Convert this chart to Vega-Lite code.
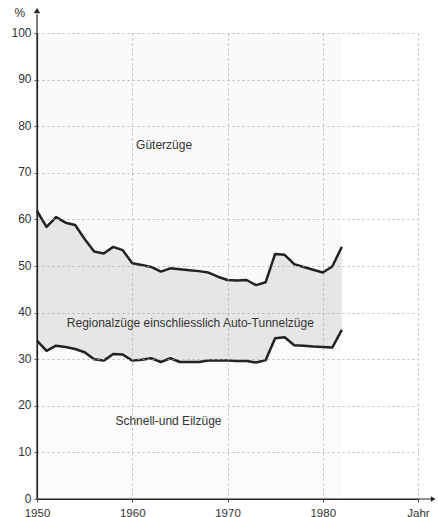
{
  "$schema": "https://vega.github.io/schema/vega-lite/v6.json",
  "width": 381,
  "height": 466,
  "autosize": {"type": "none"},
  "padding": {"left": 37, "top": 33, "right": 20, "bottom": 18},
  "background": "white",
  "config": {
    "view": {"stroke": null},
    "font": "Liberation Sans",
    "axis": {"labelFont": "Liberation Sans", "titleFont": "Liberation Sans", "labelColor": "#333", "titleColor": "#333"}
  },
  "data": {"values": [
    {"Jahr": 1950, "Untere": 34.0, "Obere": 61.8},
    {"Jahr": 1951, "Untere": 31.8, "Obere": 58.4},
    {"Jahr": 1952, "Untere": 32.9, "Obere": 60.5},
    {"Jahr": 1953, "Untere": 32.6, "Obere": 59.3},
    {"Jahr": 1954, "Untere": 32.2, "Obere": 58.8},
    {"Jahr": 1955, "Untere": 31.5, "Obere": 55.8},
    {"Jahr": 1956, "Untere": 30.0, "Obere": 53.1},
    {"Jahr": 1957, "Untere": 29.7, "Obere": 52.7},
    {"Jahr": 1958, "Untere": 31.1, "Obere": 54.1},
    {"Jahr": 1959, "Untere": 31.0, "Obere": 53.4},
    {"Jahr": 1960, "Untere": 29.7, "Obere": 50.6},
    {"Jahr": 1961, "Untere": 29.9, "Obere": 50.2},
    {"Jahr": 1962, "Untere": 30.2, "Obere": 49.8},
    {"Jahr": 1963, "Untere": 29.4, "Obere": 48.8},
    {"Jahr": 1964, "Untere": 30.2, "Obere": 49.5},
    {"Jahr": 1965, "Untere": 29.4, "Obere": 49.3},
    {"Jahr": 1966, "Untere": 29.4, "Obere": 49.1},
    {"Jahr": 1967, "Untere": 29.4, "Obere": 48.9},
    {"Jahr": 1968, "Untere": 29.7, "Obere": 48.6},
    {"Jahr": 1969, "Untere": 29.7, "Obere": 47.7},
    {"Jahr": 1970, "Untere": 29.7, "Obere": 47.0},
    {"Jahr": 1971, "Untere": 29.6, "Obere": 46.9},
    {"Jahr": 1972, "Untere": 29.6, "Obere": 47.0},
    {"Jahr": 1973, "Untere": 29.3, "Obere": 45.9},
    {"Jahr": 1974, "Untere": 29.8, "Obere": 46.5},
    {"Jahr": 1975, "Untere": 34.5, "Obere": 52.6},
    {"Jahr": 1976, "Untere": 34.7, "Obere": 52.4},
    {"Jahr": 1977, "Untere": 33.0, "Obere": 50.4},
    {"Jahr": 1978, "Untere": 32.9, "Obere": 49.8},
    {"Jahr": 1979, "Untere": 32.7, "Obere": 49.2},
    {"Jahr": 1980, "Untere": 32.6, "Obere": 48.6},
    {"Jahr": 1981, "Untere": 32.5, "Obere": 49.9},
    {"Jahr": 1982, "Untere": 36.3, "Obere": 54.1}
  ]},
  "layer": [
    {
      "mark": {"type": "area", "color": "#fafafa"},
      "encoding": {
        "x": {"field": "Jahr", "type": "quantitative", "scale": {"domain": [1950, 1990], "nice": false, "zero": false},
          "axis": {"zindex": 1, "values": [1950, 1960, 1970, 1980, 1990], "labelExpr": "datum.value == 1990 ? 'Jahr' : datum.value", "title": null, "grid": true, "gridColor": "#a8a8a8", "gridDash": [2, 3], "gridWidth": 0.8, "domainColor": "#222", "domainWidth": 1.2, "tickColor": "#555", "tickSize": 3, "labelFontSize": 11.5, "labelPadding": 5, "labelFlush": false}},
        "y": {"field": "Obere", "type": "quantitative", "scale": {"domain": [0, 100], "nice": false},
          "axis": {"zindex": 1, "values": [0, 10, 20, 30, 40, 50, 60, 70, 80, 90, 100], "title": "%", "titleAngle": 0, "titleX": -23, "titleY": -21, "titleAlign": "left", "titleBaseline": "middle", "titleFontSize": 12, "titleFontWeight": "normal", "grid": true, "gridColor": "#a8a8a8", "gridDash": [2, 3], "gridWidth": 0.8, "domainColor": "#222", "domainWidth": 1.2, "tickColor": "#555", "tickSize": 3, "labelFontSize": 12, "labelPadding": 3, "labelOffset": -1}},
        "y2": {"datum": 100}
      }
    },
    {
      "mark": {"type": "area", "color": "#e6e6e6"},
      "encoding": {
        "x": {"field": "Jahr", "type": "quantitative"},
        "y": {"field": "Obere", "type": "quantitative"},
        "y2": {"field": "Untere"}
      }
    },
    {
      "mark": {"type": "area", "color": "#fbfbfb"},
      "encoding": {
        "x": {"field": "Jahr", "type": "quantitative"},
        "y": {"field": "Untere", "type": "quantitative"},
        "y2": {"datum": 0}
      }
    },
    {
      "mark": {"type": "line", "color": "#222", "strokeWidth": 2.5, "strokeJoin": "round"},
      "encoding": {
        "x": {"field": "Jahr", "type": "quantitative"},
        "y": {"field": "Obere", "type": "quantitative"}
      }
    },
    {
      "mark": {"type": "line", "color": "#222", "strokeWidth": 2.5, "strokeJoin": "round"},
      "encoding": {
        "x": {"field": "Jahr", "type": "quantitative"},
        "y": {"field": "Untere", "type": "quantitative"}
      }
    },
    {
      "data": {"values": [{}]},
      "mark": {"type": "rule", "color": "#222", "strokeWidth": 1.2},
      "encoding": {"x": {"datum": 1950, "type": "quantitative"}, "y": {"datum": 0, "type": "quantitative"}, "y2": {"datum": 104}}
    },
    {
      "data": {"values": [{}]},
      "mark": {"type": "rule", "color": "#222", "strokeWidth": 1.2},
      "encoding": {"x": {"datum": 1950, "type": "quantitative"}, "x2": {"datum": 1991.5}, "y": {"datum": 0, "type": "quantitative"}}
    },
    {
      "data": {"values": [{}]},
      "mark": {"type": "point", "shape": "triangle-up", "filled": true, "color": "#222", "size": 40, "opacity": 1},
      "encoding": {"x": {"datum": 1950, "type": "quantitative"}, "y": {"datum": 104.8, "type": "quantitative"}}
    },
    {
      "data": {"values": [{}]},
      "mark": {"type": "point", "shape": "triangle-right", "filled": true, "color": "#222", "size": 30, "opacity": 1},
      "encoding": {"x": {"datum": 1991.6, "type": "quantitative"}, "y": {"datum": 0, "type": "quantitative"}}
    },
    {
      "data": {"values": [{}]},
      "mark": {"type": "text", "text": "Güterzüge", "fontSize": 12, "align": "left", "baseline": "middle", "color": "#333"},
      "encoding": {"x": {"datum": 1960.4, "type": "quantitative"}, "y": {"datum": 76, "type": "quantitative"}}
    },
    {
      "data": {"values": [{}]},
      "mark": {"type": "text", "text": "Regionalzüge einschliesslich Auto-Tunnelzüge", "fontSize": 12, "align": "center", "baseline": "middle", "color": "#333"},
      "encoding": {"x": {"datum": 1966.1, "type": "quantitative"}, "y": {"datum": 37.8, "type": "quantitative"}}
    },
    {
      "data": {"values": [{}]},
      "mark": {"type": "text", "text": "Schnell-und Eilzüge", "fontSize": 12, "align": "center", "baseline": "middle", "color": "#333"},
      "encoding": {"x": {"datum": 1963.8, "type": "quantitative"}, "y": {"datum": 16.7, "type": "quantitative"}}
    }
  ]
}
